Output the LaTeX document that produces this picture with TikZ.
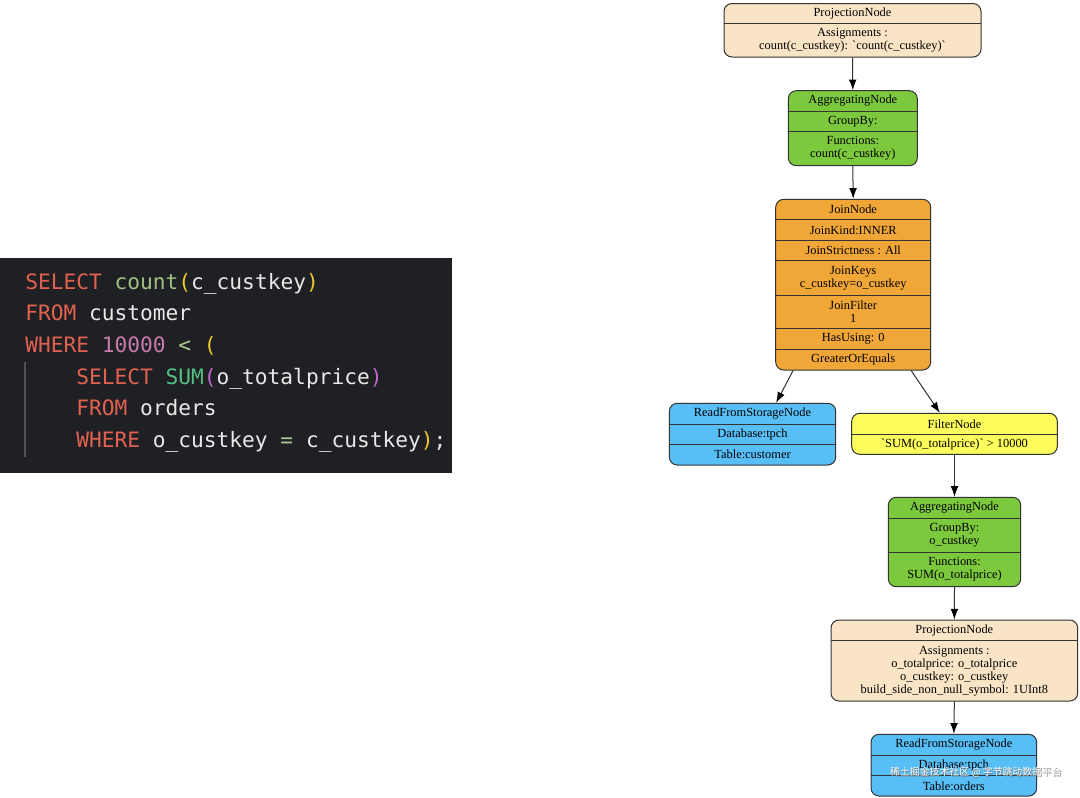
\documentclass[tikz,border=0pt]{standalone}
\usepackage{fontspec}
\setmainfont{Liberation Serif}
\newfontfamily\codefont{DejaVu Sans Mono}
\newfontfamily\cjkfont{Noto Sans CJK SC}
\usetikzlibrary{fit,arrows.meta}
\definecolor{bisq}{RGB}{250,228,198}
\definecolor{aggg}{RGB}{124,201,62}
\definecolor{joino}{RGB}{241,167,56}
\definecolor{rfsb}{RGB}{88,190,246}
\definecolor{filty}{RGB}{252,252,92}
\definecolor{codebg}{RGB}{31,32,35}
\definecolor{kwc}{RGB}{226,98,82}
\definecolor{fnc}{RGB}{160,192,132}
\definecolor{ylc}{RGB}{240,200,45}
\definecolor{idc}{RGB}{232,232,232}
\definecolor{numc}{RGB}{200,122,172}
\definecolor{opc}{RGB}{172,204,150}
\definecolor{sumc}{RGB}{84,190,132}
\definecolor{puc}{RGB}{192,102,204}
\definecolor{guide}{RGB}{80,82,86}
\begin{document}
\begin{tikzpicture}[x=0.75pt,y=-0.75pt,
  rec/.style={draw=black!80, line width=0.75pt, rounded corners=6pt, inner sep=0pt},
  divl/.style={draw=black!80, line width=0.75pt},
  txt/.style={font=\fontsize{9.3}{9.75}\selectfont, align=center, inner sep=0pt, text=black},
  edge/.style={draw=black!80, line width=0.75pt, -{Latex[length=8pt,width=5.8pt,color=black]}},
  codeln/.style={anchor=base west, inner sep=0pt, font=\codefont\fontsize{15.9}{16}\selectfont}]
\useasboundingbox (0,0) rectangle (1080,797);

% ---------- code block ----------
\node[fit={(0,258) (452,473)}, inner sep=0pt, fill=codebg] (code) {};
\draw[guide, line width=1pt] (25,362) -- (25,457);
\node[codeln] (l1) at (25,289.3) {\color{kwc}SELECT \color{fnc}count\color{ylc}(\color{idc}c\_custkey\color{ylc})};
\node[codeln] (l2) at (25,320.9) {\color{kwc}FROM \color{idc}customer};
\node[codeln] (l3) at (25,352.5) {\color{kwc}WHERE \color{numc}10000 \color{opc}< \color{ylc}(};
\node[codeln] (l4) at (76,384.1) {\color{kwc}SELECT \color{sumc}SUM\color{puc}(\color{idc}o\_totalprice\color{puc})};
\node[codeln] (l5) at (76,415.7) {\color{kwc}FROM \color{idc}orders};
\node[codeln] (l6) at (76,447.3) {\color{kwc}WHERE \color{idc}o\_custkey \color{opc}= \color{idc}c\_custkey\color{ylc})\color{idc};};

% ---------- ProjectionNode (top) ----------
\node[rec, fill=bisq, fit={(724,3.5) (981,57)}] (p1) {};
\draw[divl] (724,23.5) -- (981,23.5);
\node[txt] (p1a) at (852.5,13.5) {ProjectionNode};
\node[txt] (p1b) at (852.5,40.3) {Assignments :\\count(c\_custkey): \textasciigrave count(c\_custkey)\textasciigrave};

% ---------- AggregatingNode 1 ----------
\node[rec, fill=aggg, fit={(788.3,90.7) (917.3,165.7)}] (a1) {};
\draw[divl] (788.3,111.7) -- (917.3,111.7);
\draw[divl] (788.3,131.7) -- (917.3,131.7);
\node[txt] (a1a) at (852.8,100.5) {AggregatingNode};
\node[txt] (a1b) at (852.8,121.7) {GroupBy:};
\node[txt] (a1c) at (852.8,148.5) {Functions:\\count(c\_custkey)};

% ---------- JoinNode ----------
\node[rec, fill=joino, fit={(775.7,199.3) (930.7,370)}] (j) {};
\foreach \yy in {219.3,240,260.7,295,328.3,349.3}
  \draw[divl] (775.7,\yy) -- (930.7,\yy);
\node[txt] (ja) at (853.2,209.3) {JoinNode};
\node[txt] (jb) at (853.2,229.8) {JoinKind:INNER};
\node[txt] (jc) at (853.2,250.3) {JoinStrictness : All};
\node[txt] (jd) at (853.2,277.8) {JoinKeys\\c\_custkey=o\_custkey};
\node[txt] (je) at (853.2,311.6) {JoinFilter\\1};
\node[txt] (jf) at (853.2,338.8) {HasUsing: 0};
\node[txt] (jg) at (853.2,359.6) {GreaterOrEquals};

% ---------- ReadFromStorageNode 1 ----------
\node[rec, fill=rfsb, fit={(669.3,403.3) (835.7,465)}] (r1) {};
\draw[divl] (669.3,424) -- (835.7,424);
\draw[divl] (669.3,444.3) -- (835.7,444.3);
\node[txt] (r1a) at (752.5,413.6) {ReadFromStorageNode};
\node[txt] (r1b) at (752.5,434.1) {Database:tpch};
\node[txt] (r1c) at (752.5,454.6) {Table:customer};

% ---------- FilterNode ----------
\node[rec, fill=filty, fit={(851.7,413.3) (1057.3,454.3)}] (f) {};
\draw[divl] (851.7,434.3) -- (1057.3,434.3);
\node[txt] (fa) at (954.5,423.8) {FilterNode};
\node[txt] (fb) at (954.5,444.3) {\textasciigrave SUM(o\_totalprice)\textasciigrave{} > 10000};

% ---------- AggregatingNode 2 ----------
\node[rec, fill=aggg, fit={(888.3,497.3) (1020.7,586.7)}] (a2) {};
\draw[divl] (888.3,518.3) -- (1020.7,518.3);
\draw[divl] (888.3,552.3) -- (1020.7,552.3);
\node[txt] (a2a) at (954.5,507.8) {AggregatingNode};
\node[txt] (a2b) at (954.5,535.3) {GroupBy:\\o\_custkey};
\node[txt] (a2c) at (954.5,569.5) {Functions:\\SUM(o\_totalprice)};

% ---------- ProjectionNode 2 ----------
\node[rec, fill=bisq, fit={(831,620) (1077.7,701)}] (p2) {};
\draw[divl] (831,640.7) -- (1077.7,640.7);
\node[txt] (p2a) at (954.3,630.3) {ProjectionNode};
\node[txt] (p2b) at (954.3,670.9) {Assignments :\\o\_totalprice: o\_totalprice\\o\_custkey: o\_custkey\\build\_side\_non\_null\_symbol: 1UInt8};

% ---------- ReadFromStorageNode 2 ----------
\node[rec, fill=rfsb, fit={(871,734.3) (1036.7,796)}] (r2) {};
\draw[divl] (871,755.7) -- (1036.7,755.7);
\draw[divl] (871,775.7) -- (1036.7,775.7);
\node[txt] (r2a) at (953.8,744.8) {ReadFromStorageNode};
\node[txt] (r2b) at (953.8,765.5) {Database:tpch};
\node[txt] (r2c) at (953.8,785.8) {Table:orders};

% ---------- edges ----------
\draw[edge] (p1.south) -- (a1.north);
\draw[edge] (a1.south) -- (j.north);
\draw[edge] (j.235.8) -- (r1.53.9);
\draw[edge] (j.304.5) -- (f.125.3);
\draw[edge] (f.south) -- (a2.north);
\draw[edge] (a2.south) -- (p2.north);
\draw[edge] (p2.south) -- (r2.north);

% ---------- watermark ----------
\node[font=\cjkfont\fontsize{7.4}{8}\selectfont, text=black!55, inner sep=0pt] (wms) at (976.6,773.3) {稀土掘金技术社区 @ 字节跳动数据平台};
\node[font=\cjkfont\fontsize{7.4}{8}\selectfont, text=white, inner sep=0pt] (wm) at (976,772.5) {稀土掘金技术社区 @ 字节跳动数据平台};
\end{tikzpicture}
\end{document}
